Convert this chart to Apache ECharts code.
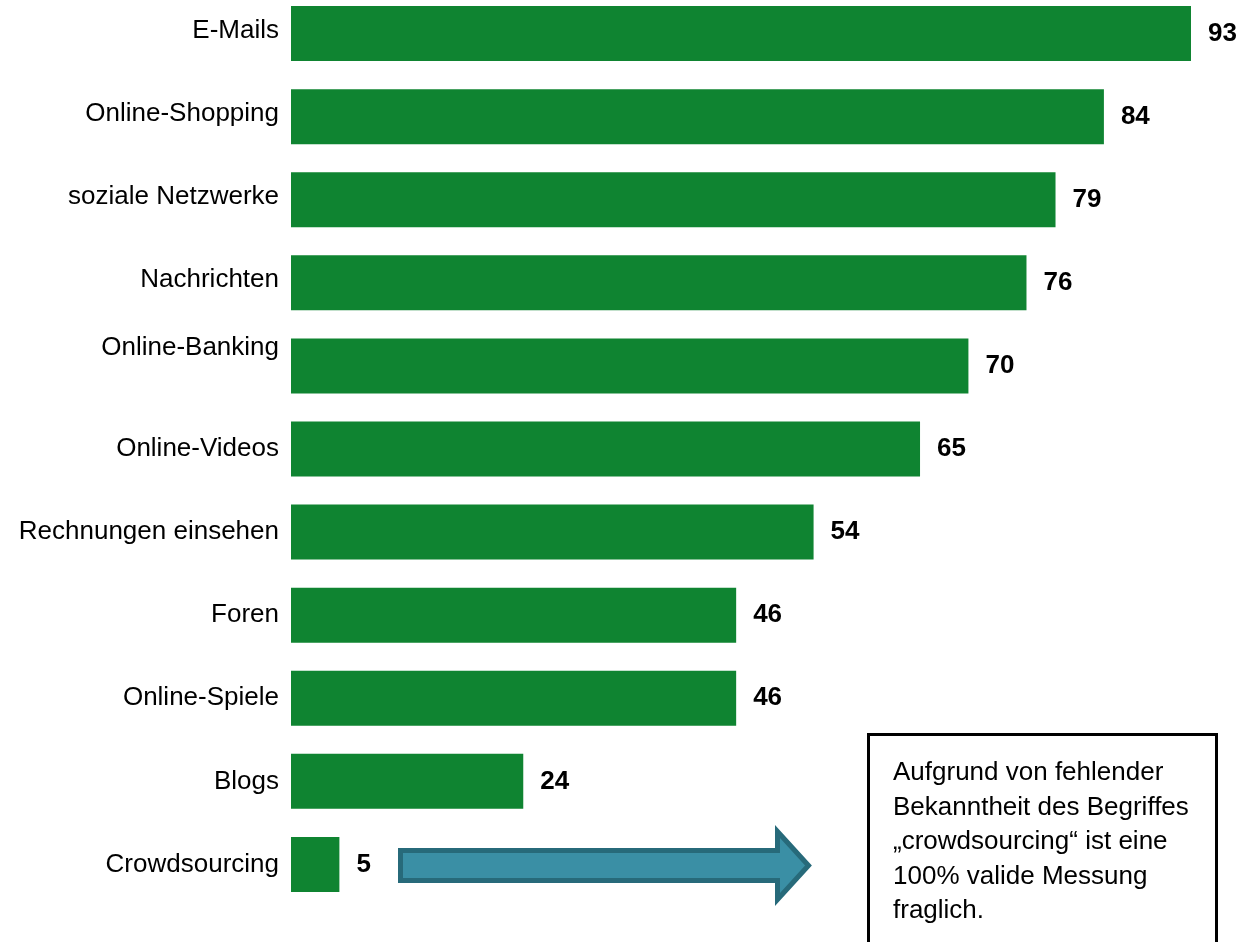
<!DOCTYPE html>
<html>
<head>
<meta charset="utf-8">
<script src="https://cdn.jsdelivr.net/npm/echarts@6/dist/echarts.min.js"></script>
<style>
html,body{margin:0;padding:0;background:#fff;overflow:hidden;}
#chart{width:1248px;height:950px;position:relative;top:-8px;}
</style>
</head>
<body>
<div id="chart"></div>
<script>
const categories = ['E-Mails','Online-Shopping','soziale Netzwerke','Nachrichten','Online-Banking','Online-Videos','Rechnungen einsehen','Foren','Online-Spiele','Blogs','Crowdsourcing'];
const values = [93, 84, 79, 76, 70, 65, 54, 46, 46, 24, 5];
const noteLines = ['Aufgrund von fehlender','Bekanntheit des Begriffes','\u201Ecrowdsourcing\u201C ist eine','100% valide Messung','fraglich.'];

const FONT = '"Liberation Sans", Arial, sans-serif';
const chart = echarts.init(document.getElementById('chart'), null, {renderer: 'canvas'});
const OFF = 8; // container shifted up by 8px

chart.setOption({
  animation: false,
  backgroundColor: '#ffffff',
  grid: {left: 291, width: 900, top: 0, height: 914, containLabel: false},
  xAxis: {type: 'value', min: 0, max: 93, show: false},
  yAxis: {
    type: 'category', inverse: true, data: categories,
    axisLine: {show: false}, axisTick: {show: false}, splitLine: {show: false},
    axisLabel: {
      color: '#000', fontFamily: FONT, fontSize: 26, margin: 12,
      formatter: function (v, i) {
        if (v === 'Online-Banking') return '{hi|' + v + '}';
        if (i < 4) return '{up|' + v + '}';
        return '{n|' + v + '}';
      },
      rich: {
        hi: {fontFamily: FONT, fontSize: 26, color: '#000', padding: [0, 0, 36, 0]},
        up: {fontFamily: FONT, fontSize: 26, color: '#000', padding: [0, 0, 6, 0]},
        n: {fontFamily: FONT, fontSize: 26, color: '#000'}
      }
    }
  },
  series: [{
    type: 'bar',
    data: values,
    barWidth: 55,
    itemStyle: {color: '#0F8431'},
    label: {
      show: true, position: 'right', distance: 17,
      color: '#000', fontFamily: FONT, fontSize: 26, fontWeight: 'bold'
    }
  }],
  graphic: [
    {
      type: 'polygon',
      shape: {points: [[400.5, 850.5 + OFF], [777.5, 850.5 + OFF], [777.5, 831.5 + OFF], [808.5, 865.5 + OFF], [777.5, 899.5 + OFF], [777.5, 880.5 + OFF], [400.5, 880.5 + OFF]]},
      style: {fill: '#3A8FA5', stroke: '#276A7A', lineWidth: 5, lineJoin: 'miter'}
    },
    {
      type: 'rect',
      shape: {x: 868.5, y: 734.5 + OFF, width: 348, height: 240},
      style: {fill: '#ffffff', stroke: '#000000', lineWidth: 3}
    },
    {
      type: 'text',
      left: 893, top: 756 + OFF,
      style: {
        text: noteLines.join('\n'),
        fontFamily: FONT, fontSize: 26, lineHeight: 34.5, fill: '#000'
      }
    }
  ]
});
</script>
</body>
</html>
